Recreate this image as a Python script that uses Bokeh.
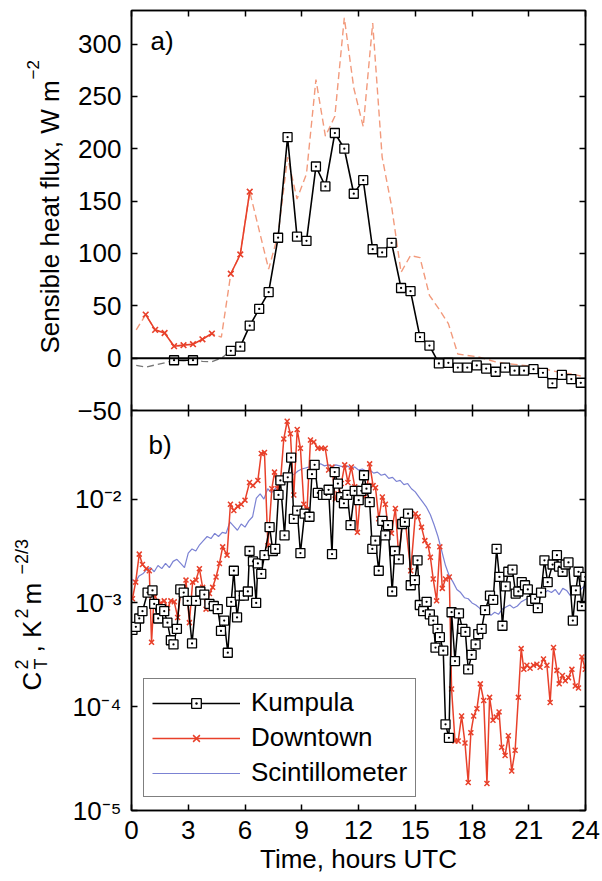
import numpy as np
from bokeh.plotting import figure
from bokeh.models import (Range1d, LinearAxis, LogAxis, FixedTicker, Span, Label,
                          Legend, LegendItem, CustomJSTickFormatter)
from bokeh.core.properties import value
from bokeh.layouts import column, row
from bokeh.embed import file_html
from bokeh.resources import INLINE

# ---------------- data: panel a) sensible heat flux (W m-2) ----------------
HOUR_TICKS = [0, 3, 6, 9, 12, 15, 18, 21, 24]
FLUX_TICKS = [-50, 0, 50, 100, 150, 200, 250, 300]
CT2_TICKS = [1e-5, 1e-4, 1e-3, 1e-2]

kump_flux_time = [2.25, 3.25, 4.25, 5.25, 5.75, 6.25, 6.75, 7.25, 7.75, 8.25, 8.75, 9.25,
                  9.75, 10.25, 10.75, 11.25, 11.75, 12.25, 12.75, 13.25, 13.75, 14.25,
                  14.75, 15.25, 15.75, 16.25, 16.75, 17.25, 17.75, 18.25, 18.75, 19.25,
                  19.75, 20.25, 20.75, 21.25, 21.75, 22.25, 22.75, 23.25, 23.75]
kump_flux = [-2, -2, np.nan, 7, 11, 31, 47, 63, 115, 211, 116, 112,
             183, 164, 215, 200, 157, 170, 104, 101, 110, 67,
             64, 20, 12, -5, -4.5, -9, -9, -7, -10, -13,
             -9, -12, -12, -10.5, -14, -24, -16, -20, -23.5]

kump_fill_time = [0.25, 0.75, 1.25, 1.75, 2.25, 2.75, 3.25, 3.75, 4.25, 4.75, 5.25]
kump_fill_flux = [-7, -8.6, -6.5, -4.5, -2, -2.5, -2, -3, -3.5, 0, 7]

down_flux_time = [0.75, 1.25, 1.75, 2.25, 2.75, 3.25, 3.75, 4.25, 4.75, 5.25, 5.75, 6.25]
down_flux = [41.6, 27, 24, 11.4, 12.4, 13.3, 18, 23.5, np.nan, 80.6, 99, 159]

down_fill_time = [0.25, 0.75, 1.25, 1.75, 2.25, 2.75, 3.25, 3.75, 4.25, 4.75, 5.25, 5.75,
                  6.25, 6.75, 7.25, 7.75, 8.25, 8.75, 9.25, 9.75, 10.25, 10.75, 11.25, 11.75,
                  12.25, 12.75, 13.25, 13.75, 14.25, 14.75, 15.25, 15.75, 16.25, 16.75, 17.25, 17.75,
                  18.25, 18.75, 19.25, 19.75, 20.25, 20.75, 21.25, 21.75, 22.25, 22.75, 23.25, 23.75]
down_fill_flux = [27, 41.6, 27, 24, 11.4, 12.4, 13.3, 18, 23.5, 20, 80.6, 99,
                  159, 122, 85, 118, 192, 152, 176, 266, 212, 231, 325, 258,
                  221, 320, 192, 145, 82, 98, 96, 60, 47, 33, 4, 2.5,
                  1.5, -1, -3.5, -5, -6, -7, -8, -10, -12, -14, -15, -17]

# ---------------- data: panel b) CT2 (log10 of K2 m-2/3) ----------------
kump_ct2_time = [0.05, 0.23, 0.41, 0.58, 0.85, 1.11, 1.20, 1.41, 1.55, 1.73,
                 1.90, 2.08, 2.22, 2.40, 2.58, 2.76, 2.97, 3.20, 3.41, 3.64,
                 3.85, 4.12, 4.35, 4.56, 4.73, 4.90, 5.09, 5.27, 5.41, 5.58,
                 5.72, 5.94, 6.15, 6.24, 6.42, 6.59, 6.68, 6.86, 7.03, 7.30,
                 7.47, 7.60, 7.77, 7.87, 8.09, 8.26, 8.44, 8.58, 8.76, 8.93,
                 9.15, 9.41, 9.54, 9.68, 9.85, 10.12, 10.30, 10.42, 10.60, 10.74,
                 10.91, 11.08, 11.23, 11.41, 11.58, 11.80, 12.01, 12.15, 12.29, 12.42,
                 12.59, 12.73, 12.89, 13.07, 13.26, 13.42, 13.56, 13.78, 13.92, 14.13,
                 14.31, 14.45, 14.62, 14.76, 14.98, 15.12, 15.24, 15.42, 15.60, 15.77,
                 15.95, 16.07, 16.18, 16.30, 16.48, 16.60, 16.78, 16.92, 17.10, 17.31,
                 17.49, 17.65, 17.80, 17.98, 18.19, 18.33, 18.51, 18.69, 18.95, 19.12,
                 19.30, 19.45, 19.61, 19.78, 19.92, 20.14, 20.31, 20.45, 20.63, 20.80,
                 20.95, 21.15, 21.34, 21.48, 21.65, 21.83, 22.00, 22.26, 22.49, 22.60,
                 22.79, 22.95, 23.10, 23.33, 23.49, 23.63, 23.81, 23.99]
kump_ct2_log10 = [-3.26, -3.23, -3.15, -3.08, -2.90, -2.88, -3.01, -3.15, -3.06, -3.08,
                  -3.19, -3.36, -3.40, -3.25, -2.87, -2.90, -2.98, -3.39, -2.98, -2.89,
                  -2.92, -3.01, -3.03, -3.06, -3.27, -3.17, -3.48, -2.99, -2.69, -3.14,
                  -2.93, -2.93, -2.89, -2.50, -2.60, -3.00, -2.62, -2.72, -2.54, -2.27,
                  -2.50, -2.48, -1.96, -1.82, -2.35, -1.79, -1.60, -2.19, -2.11, -2.52,
                  -2.14, -2.17, -1.76, -1.67, -1.94, -1.96, -1.96, -1.91, -2.53, -1.74,
                  -1.85, -1.98, -2.04, -1.96, -2.25, -1.92, -2.01, -1.92, -1.77, -1.90,
                  -2.03, -2.48, -2.40, -2.69, -2.21, -2.35, -2.25, -2.89, -2.50, -2.58,
                  -2.24, -2.22, -2.14, -2.83, -2.78, -2.59, -3.02, -3.08, -2.99, -3.11,
                  -3.17, -3.43, -3.25, -3.33, -3.46, -4.17, -4.30, -3.09, -3.56, -3.10,
                  -3.25, -3.28, -3.64, -3.50, -3.40, -3.30, -3.25, -3.07, -2.93, -2.97,
                  -2.48, -2.75, -3.22, -2.84, -2.70, -2.68, -2.91, -2.89, -2.80, -2.83,
                  -2.87, -2.98, -2.96, -3.05, -2.90, -2.59, -2.80, -2.63, -2.54, -2.65,
                  -2.70, -2.63, -2.61, -3.17, -2.88, -2.70, -3.03, -2.75]

down_ct2_time = [0.05, 0.22, 0.41, 0.58, 0.78, 0.94, 1.06, 1.20, 1.38, 1.55,
                 1.73, 1.91, 2.08, 2.26, 2.44, 2.61, 2.79, 2.88, 3.06, 3.23,
                 3.41, 3.59, 3.76, 3.94, 4.12, 4.29, 4.47, 4.65, 4.82, 5.05,
                 5.23, 5.41, 5.62, 5.80, 6.00, 6.24, 6.42, 6.68, 6.86, 7.03,
                 7.21, 7.42, 7.56, 7.73, 7.88, 8.05, 8.23, 8.40, 8.58, 8.76,
                 8.93, 9.11, 9.28, 9.46, 9.64, 9.85, 10.03, 10.24, 10.42, 10.60,
                 10.77, 10.92, 11.09, 11.27, 11.44, 11.62, 11.80, 11.94, 12.11, 12.33,
                 12.47, 12.59, 12.77, 12.90, 13.07, 13.26, 13.42, 13.56, 13.74, 13.95,
                 14.13, 14.31, 14.48, 14.76, 15.01, 15.15, 15.33, 15.51, 15.68, 15.80,
                 15.95, 16.13, 16.30, 16.43, 16.60, 16.80, 16.92, 17.10, 17.27, 17.45,
                 17.63, 17.80, 17.94, 18.09, 18.26, 18.44, 18.62, 18.79, 18.93, 19.11,
                 19.28, 19.43, 19.57, 19.75, 19.92, 20.10, 20.28, 20.45, 20.60, 20.74,
                 20.90, 21.07, 21.25, 21.43, 21.60, 21.78, 21.96, 22.13, 22.31, 22.49,
                 22.61, 22.78, 22.93, 23.10, 23.28, 23.46, 23.63, 23.81, 23.99]
down_ct2_log10 = [-2.96, -2.80, -2.53, -2.63, -2.67, -2.69, -3.38, -2.91, -2.99, -3.00,
                  -2.98, -3.05, -2.98, -2.99, -3.14, -2.88, -2.90, -2.78, -3.19, -2.80,
                  -2.78, -2.67, -2.85, -3.06, -2.91, -2.85, -2.75, -2.62, -2.46, -2.54,
                  -2.05, -2.11, -2.07, -2.05, -2.01, -1.84, -1.87, -1.82, -1.56, -1.55,
                  -2.45, -1.90, -1.74, -1.90, -1.82, -1.42, -1.25, -1.37, -1.96, -1.33,
                  -1.51, -2.05, -2.10, -1.43, -1.45, -1.51, -1.51, -1.51, -1.72, -1.69,
                  -2.00, -1.95, -1.85, -1.67, -1.84, -1.69, -1.88, -2.32, -1.95, -1.98,
                  -1.87, -1.66, -1.87, -1.89, -2.19, -1.98, -2.05, -2.27, -2.33, -2.09,
                  -2.56, -2.24, -2.22, -2.69, -2.14, -2.17, -2.27, -2.40, -2.45, -2.56,
                  -2.77, -2.98, -2.46, -2.86, -2.77, -2.75, -3.83, -4.33, -4.33, -4.09,
                  -4.35, -4.73, -4.25, -4.09, -4.02, -3.78, -3.94, -4.74, -3.91, -4.13,
                  -4.10, -4.05, -4.39, -4.47, -4.28, -4.62, -4.42, -3.91, -3.44, -3.64,
                  -3.60, -3.63, -3.60, -3.59, -3.62, -3.54, -3.60, -3.96, -3.43, -3.65,
                  -3.78, -3.70, -3.75, -3.72, -3.64, -3.80, -3.82, -3.52, -3.64]

scint_ct2_time = [0.0, 0.2, 0.4, 0.6, 0.8, 1.0, 1.2, 1.4, 1.6, 1.8,
                  2.0, 2.2, 2.4, 2.6, 2.8, 3.0, 3.2, 3.4, 3.6, 3.8,
                  4.0, 4.2, 4.4, 4.6, 4.8, 5.0, 5.2, 5.4, 5.6, 5.8,
                  6.0, 6.2, 6.4, 6.6, 6.8, 7.0, 7.2, 7.4, 7.6, 7.8,
                  8.0, 8.2, 8.4, 8.6, 8.8, 9.0, 9.2, 9.4, 9.6, 9.8,
                  10.0, 10.2, 10.4, 10.6, 10.8, 11.0, 11.2, 11.4, 11.6, 11.8,
                  12.0, 12.2, 12.4, 12.6, 12.8, 13.0, 13.2, 13.4, 13.6, 13.8,
                  14.0, 14.2, 14.4, 14.6, 14.8, 15.0, 15.2, 15.4, 15.6, 15.8,
                  16.0, 16.2, 16.4, 16.6, 16.8, 17.0, 17.2, 17.4, 17.6, 17.8,
                  18.0, 18.2, 18.4, 18.6, 18.8, 19.0, 19.2, 19.4, 19.6, 19.8,
                  20.0, 20.2, 20.4, 20.6, 20.8, 21.0, 21.2, 21.4, 21.6, 21.8,
                  22.0, 22.2, 22.4, 22.6, 22.8, 23.0, 23.2, 23.4, 23.6, 23.8, 24.0]
scint_ct2_log10 = [-2.77, -2.80, -2.74, -2.72, -2.68, -2.66, -2.70, -2.64, -2.67, -2.62,
                   -2.66, -2.60, -2.58, -2.62, -2.66, -2.52, -2.48, -2.50, -2.44, -2.40,
                   -2.36, -2.38, -2.33, -2.36, -2.32, -2.33, -2.22, -2.26, -2.30, -2.24,
                   -2.27, -2.21, -2.17, -1.99, -1.95, -2.00, -1.90, -1.94, -1.90, -1.86,
                   -1.84, -1.80, -1.78, -1.76, -1.73, -1.71, -1.70, -1.69, -1.67, -1.68,
                   -1.66, -1.68, -1.67, -1.69, -1.67, -1.68, -1.69, -1.68, -1.70, -1.69,
                   -1.72, -1.71, -1.73, -1.72, -1.75, -1.74, -1.77, -1.76, -1.80, -1.79,
                   -1.83, -1.82, -1.86, -1.85, -1.90, -1.93, -1.98, -2.03, -2.08, -2.15,
                   -2.25, -2.36, -2.50, -2.64, -2.74, -2.80, -2.87, -2.90, -2.95, -2.96,
                   -3.00, -3.02, -3.05, -3.10, -3.08, -3.12, -3.09, -3.11, -3.06, -3.04,
                   -3.02, -3.05, -3.03, -2.99, -2.97, -2.95, -2.93, -2.94, -2.90, -2.91,
                   -2.88, -2.90, -2.87, -2.92, -2.86, -2.88, -2.93, -2.90, -2.92, -2.86, -2.83]

# ---------------- styling ----------------
FONT = "Liberation Sans"
FS = "26px"
RED = "#e8402a"
SALMON = "#f29a7c"
BLUE = "#5a63c8"
STRIP = 64            # width of the strip holding the rotated y titles
LEFT = 131 - STRIP    # left border of the panels
OVER = 16             # overlap of the two panels' canvases (room for the "-50" label)

kump_ct2 = 10.0 ** np.array(kump_ct2_log10)
down_ct2 = 10.0 ** np.array(down_ct2_log10)
scint_ct2 = 10.0 ** np.array(scint_ct2_log10)


def style_axis(ax, show_labels):
    ax.major_tick_in = 6
    ax.major_tick_out = 0
    ax.minor_tick_line_color = None
    ax.axis_line_color = "black"
    ax.axis_line_width = 1.5
    ax.major_tick_line_color = "black"
    ax.major_tick_line_width = 1.5
    if show_labels:
        ax.major_label_text_font = FONT
        ax.major_label_text_font_size = FS
        ax.major_label_text_color = "black"
        ax.major_label_standoff = 10
        ax.axis_label_text_font = FONT
        ax.axis_label_text_font_size = FS
        ax.axis_label_text_font_style = "normal"
        ax.axis_label_text_color = "black"
    else:
        ax.formatter = CustomJSTickFormatter(code="return ''")
        ax.major_label_text_font_size = "0px"
        ax.major_label_standoff = 0


x_range = Range1d(0, 24)

# ---------------- panel a ----------------
p1 = figure(width=602 - STRIP, height=410 + OVER, x_range=x_range, y_range=Range1d(-50, 332),
            x_axis_location=None, y_axis_location=None,
            min_border_left=LEFT, min_border_right=17, min_border_top=10, min_border_bottom=OVER,
            output_backend="svg", toolbar_location=None)
p1.outline_line_color = "black"
p1.outline_line_width = 1.5
p1.background_fill_color = "white"
p1.border_fill_color = "white"
p1.grid.visible = False

minus_fmt = CustomJSTickFormatter(code="return tick < 0 ? '\u2212' + Math.abs(tick) : String(tick);")
ax = LinearAxis(ticker=FixedTicker(ticks=FLUX_TICKS), formatter=minus_fmt)
style_axis(ax, True)
p1.add_layout(ax, "left")
ax = LinearAxis(ticker=FixedTicker(ticks=FLUX_TICKS)); style_axis(ax, False); p1.add_layout(ax, "right")
ax = LinearAxis(ticker=FixedTicker(ticks=HOUR_TICKS)); style_axis(ax, False); p1.add_layout(ax, "above")
ax = LinearAxis(ticker=FixedTicker(ticks=HOUR_TICKS)); style_axis(ax, False); p1.add_layout(ax, "below")

p1.line(down_fill_time, down_fill_flux, line_color=SALMON, line_width=1.4, line_dash="7 4")
p1.line(kump_fill_time, kump_fill_flux, line_color="#777777", line_width=1.3, line_dash="7 4")
p1.add_layout(Span(location=0, dimension="width", line_color="black", line_width=2))
p1.line(down_flux_time, down_flux, line_color=RED, line_width=1.6)
p1.scatter(down_flux_time, down_flux, marker="x", size=8, line_color=RED, line_width=1.6)
p1.line(kump_flux_time, kump_flux, line_color="black", line_width=1.6)
p1.scatter(kump_flux_time, kump_flux, marker="square_dot", size=9, line_color="black",
           fill_color="white", line_width=1.3)
p1.add_layout(Label(x=19, y=355, x_units="screen", y_units="screen", text="a)",
                    text_font=FONT, text_font_size=FS, text_color="black"))

# ---------------- panel b ----------------
p2 = figure(width=602 - STRIP, height=471, x_range=x_range, y_range=Range1d(1e-5, 0.0714),
            y_axis_type="log", x_axis_location=None, y_axis_location=None,
            min_border_left=LEFT, min_border_right=17, min_border_top=0, min_border_bottom=71,
            output_backend="svg", toolbar_location=None, margin=(-OVER, 0, 0, 0))
p2.outline_line_color = "black"
p2.outline_line_width = 1.5
p2.background_fill_color = "white"
p2.border_fill_alpha = 0.0
p2.grid.visible = False

sup_fmt = CustomJSTickFormatter(code="""
const e = Math.round(Math.log10(tick));
const sup = {'-': '\u207b', '0': '\u2070', '1': '\u00b9', '2': '\u00b2', '3': '\u00b3',
             '4': '\u2074', '5': '\u2075', '6': '\u2076', '7': '\u2077', '8': '\u2078', '9': '\u2079'};
return '10' + String(e).split('').map(c => sup[c]).join('');
""")
ax = LogAxis(ticker=FixedTicker(ticks=CT2_TICKS), formatter=sup_fmt)
style_axis(ax, True)
p2.add_layout(ax, "left")
ax = LogAxis(ticker=FixedTicker(ticks=CT2_TICKS)); style_axis(ax, False); p2.add_layout(ax, "right")
ax = LinearAxis(ticker=FixedTicker(ticks=HOUR_TICKS)); style_axis(ax, False); p2.add_layout(ax, "above")
ax = LinearAxis(ticker=FixedTicker(ticks=HOUR_TICKS), axis_label="Time, hours UTC")
style_axis(ax, True)
ax.axis_label_standoff = 2
p2.add_layout(ax, "below")

sc_line = p2.line(scint_ct2_time, scint_ct2, line_color=BLUE, line_width=1.2, line_alpha=0.8)
dt_line = p2.line(down_ct2_time, down_ct2, line_color=RED, line_width=1.5)
dt_mark = p2.scatter(down_ct2_time, down_ct2, marker="x", size=7, line_color=RED, line_width=1.5)
kp_line = p2.line(kump_ct2_time, kump_ct2, line_color="black", line_width=1.5)
kp_mark = p2.scatter(kump_ct2_time, kump_ct2, marker="square_dot", size=9, line_color="black",
                     fill_color="white", line_width=1.3)

legend = Legend(items=[LegendItem(label="Kumpula", renderers=[kp_line, kp_mark]),
                       LegendItem(label="Downtown", renderers=[dt_line, dt_mark]),
                       LegendItem(label="Scintillometer", renderers=[sc_line])],
                location=(12, 13), orientation="vertical",
                border_line_color="black", border_line_width=1.5,
                background_fill_color="white", background_fill_alpha=1.0,
                label_text_font=FONT, label_text_font_size=FS, label_text_color="black",
                glyph_width=88, glyph_height=24, label_height=24, label_standoff=11,
                spacing=4, padding=8, margin=0)
p2.add_layout(legend)

p2.add_layout(Label(x=17, y=351, x_units="screen", y_units="screen", text="b)",
                    text_font=FONT, text_font_size=FS, text_color="black"))

# ---------------- strip holding the two rotated y-axis titles ----------------
H = 881
strip = figure(width=STRIP, height=H, x_range=Range1d(0, STRIP), y_range=Range1d(0, H),
               x_axis_location=None, y_axis_location=None,
               min_border_left=0, min_border_right=0, min_border_top=0, min_border_bottom=0,
               output_backend="svg", toolbar_location=None)
strip.outline_line_color = None
strip.grid.visible = False
strip.background_fill_color = "white"
strip.border_fill_color = "white"

# (text, centre x of the rotated line, start y measured from the page top, font size)
title_pieces = [
    ("Sensible heat flux, W m", 49, 353, "26px"),
    ("\u22122", 32, 79, "17px"),
    ("C", 31, 690, "26px"),
    ("T", 40, 669, "18px"),
    ("2", 21, 669, "18px"),
    (", K", 31, 652, "26px"),
    ("2", 21, 618, "18px"),
    ("m", 31, 604, "26px"),
    ("\u22122/3", 21, 574, "18px"),
]
for txt, cx, top_y, fs in title_pieces:
    strip.text(x=[cx], y=[H - top_y], text=[txt], angle=np.pi / 2,
               text_font=value(FONT), text_font_size=value(fs), text_color="black",
               text_baseline="middle", text_align="left")

layout = row(strip, column(p1, p2, spacing=0), spacing=0)
with open("out.html", "w", encoding="utf-8") as f:
    f.write(file_html(layout, INLINE))
